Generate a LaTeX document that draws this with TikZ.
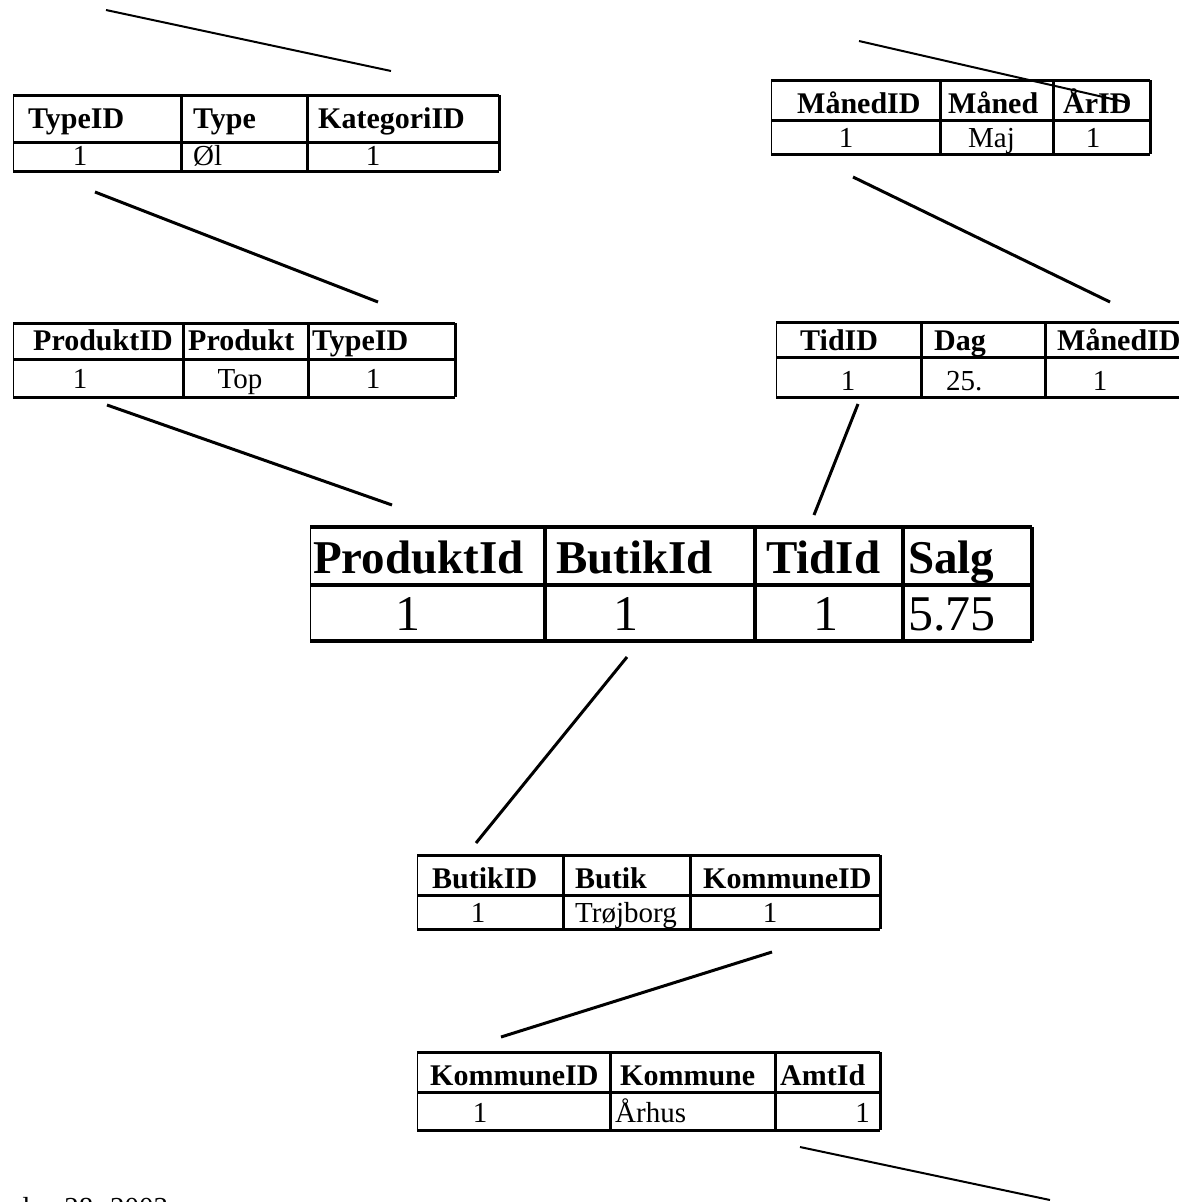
\documentclass[tikz,border=0pt]{standalone}
\usepackage{fontspec}
\setmainfont{Liberation Serif}
\begin{document}
\begin{tikzpicture}[x=1pt,y=-1pt,
  hd/.style={font=\fontsize{30}{30}\selectfont\bfseries, inner sep=0pt, anchor=base west},
  dt/.style={font=\fontsize{29}{29}\selectfont, inner sep=0pt, anchor=base west},
  dtc/.style={dt, anchor=base},
  dte/.style={dt, anchor=base east},
  bighd/.style={font=\fontsize{47}{47}\selectfont\bfseries, inner sep=0pt, anchor=base west},
  bigdt/.style={font=\fontsize{50}{50}\selectfont, inner sep=0pt, anchor=base west},
  bigdtc/.style={bigdt, anchor=base},
  rule/.style={line width=3pt},
  bigrule/.style={line width=3.5pt},
  edge/.style={line width=1pt},
  link/.style={line width=3pt},
  thinlink/.style={line width=2pt}]
\useasboundingbox (0,0) rectangle (1178,1202);
\fill[white] (0,0) rectangle (1178,1202);

% ---- Type table ----
\draw[edge] (13,95) -- (13,171);
\draw[rule] (13,95) -- (499,95) (13,142) -- (499,142) (13,171) -- (499,171);
\draw[rule] (181,95) -- (181,171) (307,95) -- (307,171) (499,95) -- (499,171);
\node[hd] (typeH1) at (28,128) {TypeID};
\node[hd] (typeH2) at (193,128) {Type};
\node[hd] (typeH3) at (318,128) {KategoriID};
\node[dtc] (typeD1) at (80,165) {1};
\node[dt]  (typeD2) at (193,165) {Øl};
\node[dtc] (typeD3) at (373,165) {1};

% ---- Måned table ----
\draw[edge] (771,80) -- (771,154);
\draw[rule] (771,80) -- (1150,80) (771,120) -- (1150,120) (771,154) -- (1150,154);
\draw[rule] (940,80) -- (940,154) (1053,80) -- (1053,154) (1150,80) -- (1150,154);
\node[hd] (manH1) at (797,113) {MånedID};
\node[hd] (manH2) at (948,113) {Måned};
\node[hd] (manH3) at (1063,113) {ÅrID};
\node[dtc] (manD1) at (846,147) {1};
\node[dt]  (manD2) at (968,147) {Maj};
\node[dtc] (manD3) at (1093,147) {1};

% ---- Produkt table ----
\draw[edge] (13,323) -- (13,397);
\draw[rule] (13,323) -- (455,323) (13,359) -- (455,359) (13,397) -- (455,397);
\draw[rule] (183,323) -- (183,397) (308,323) -- (308,397) (455,323) -- (455,397);
\node[hd] (proH1) at (33,350) {ProduktID};
\node[hd] (proH2) at (188,350) {Produkt};
\node[hd] (proH3) at (312,350) {TypeID};
\node[dtc] (proD1) at (80,388) {1};
\node[dtc] (proD2) at (240,388) {Top};
\node[dtc] (proD3) at (373,388) {1};

% ---- Tid table ----
\draw[edge] (776,322) -- (776,397);
\draw[rule] (776,322) -- (1180,322) (776,357) -- (1180,357) (776,397) -- (1180,397);
\draw[rule] (921,322) -- (921,397) (1045,322) -- (1045,397);
\node[hd] (tidH1) at (800,350) {TidID};
\node[hd] (tidH2) at (934,350) {Dag};
\node[hd] (tidH3) at (1057,350) {MånedID};
\node[dtc] (tidD1) at (848,390) {1};
\node[dt]  (tidD2) at (946,390) {25.};
\node[dtc] (tidD3) at (1100,390) {1};

% ---- Salg (fact) table ----
\draw[edge] (310,527) -- (310,641);
\draw[bigrule] (310,527) -- (1032,527) (310,585) -- (1032,585) (310,641) -- (1032,641);
\draw[bigrule] (545,527) -- (545,641) (755,527) -- (755,641) (903,527) -- (903,641) (1032,527) -- (1032,641);
\node[bighd] (facH1) at (313,573) {ProduktId};
\node[bighd] (facH2) at (556,573) {ButikId};
\node[bighd] (facH3) at (766,573) {TidId};
\node[bighd] (facH4) at (908,573) {Salg};
\node[bigdtc] (facD1) at (408,630) {1};
\node[bigdtc] (facD2) at (626,630) {1};
\node[bigdtc] (facD3) at (826,630) {1};
\node[bigdt]  (facD4) at (908,630) {5.75};

% ---- Butik table ----
\draw[edge] (417,855) -- (417,929);
\draw[rule] (417,855) -- (880,855) (417,895) -- (880,895) (417,929) -- (880,929);
\draw[rule] (563,855) -- (563,929) (690,855) -- (690,929) (880,855) -- (880,929);
\node[hd] (butH1) at (432,888) {ButikID};
\node[hd] (butH2) at (575,888) {Butik};
\node[hd] (butH3) at (703,888) {KommuneID};
\node[dtc] (butD1) at (478,922) {1};
\node[dt]  (butD2) at (575,922) {Trøjborg};
\node[dtc] (butD3) at (770,922) {1};

% ---- Kommune table ----
\draw[edge] (417,1052) -- (417,1130);
\draw[rule] (417,1052) -- (880,1052) (417,1092) -- (880,1092) (417,1130) -- (880,1130);
\draw[rule] (610,1052) -- (610,1130) (775,1052) -- (775,1130) (880,1052) -- (880,1130);
\node[hd] (komH1) at (430,1085) {KommuneID};
\node[hd] (komH2) at (620,1085) {Kommune};
\node[hd] (komH3) at (780,1085) {AmtId};
\node[dtc] (komD1) at (480,1122) {1};
\node[dt]  (komD2) at (615,1122) {Århus};
\node[dte] (komD3) at (870,1122) {1};

% ---- footer (runs off the page edge) ----
\node[dt] (footer) at (15,1217) {den 28. 2003};

% ---- connector end points ----
\coordinate (k1a) at (106,10);   \coordinate (k1b) at (391,71);
\coordinate (k2a) at (95,192);   \coordinate (k2b) at (378,302);
\coordinate (k3a) at (859,41);   \coordinate (k3b) at (1125,102);
\coordinate (k4a) at (853,177);  \coordinate (k4b) at (1110,302);
\coordinate (k5a) at (107,405);  \coordinate (k5b) at (392,505);
\coordinate (k6a) at (858,404);  \coordinate (k6b) at (814,515);
\coordinate (k7a) at (627,657);  \coordinate (k7b) at (476,843);
\coordinate (k8a) at (772,952);  \coordinate (k8b) at (501,1037);
\coordinate (k9a) at (800,1147); \coordinate (k9b) at (1050,1200);

% ---- connectors ----
\draw[thinlink] (k1a) -- (k1b);
\draw[link] (k2a) -- (k2b);
\draw[thinlink] (k3a) -- (k3b);
\draw[link] (k4a) -- (k4b);
\draw[link] (k5a) -- (k5b);
\draw[link] (k6a) -- (k6b);
\draw[link] (k7a) -- (k7b);
\draw[link] (k8a) -- (k8b);
\draw[thinlink] (k9a) -- (k9b);
\end{tikzpicture}
\end{document}
